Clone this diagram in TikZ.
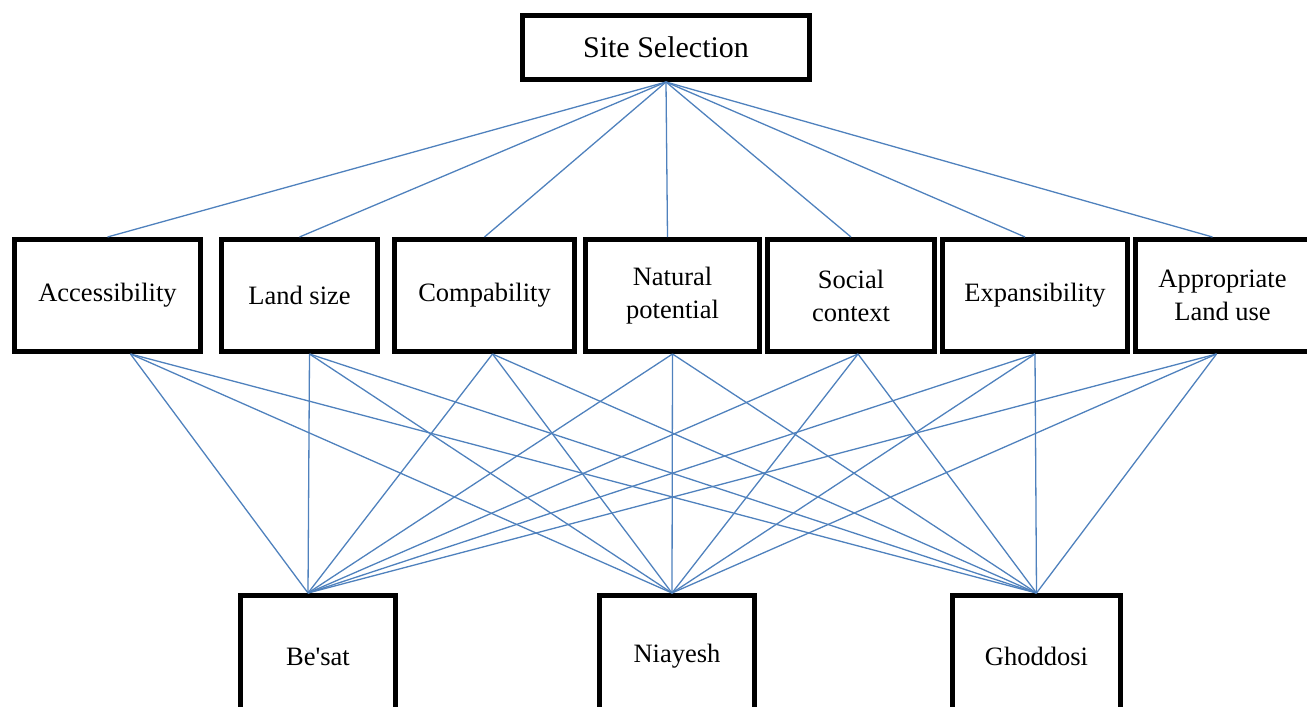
\documentclass[tikz,border=0pt]{standalone}
\usepackage{fontspec}
\setmainfont{Liberation Serif}
\usepackage{tikz}
\usetikzlibrary{positioning}

\definecolor{linkblue}{RGB}{79,129,189}

\tikzset{
  box/.style={draw, line width=5pt, inner sep=0pt, align=center,
    font=\fontsize{26.5}{33}\selectfont},
  crit/.style={box, minimum height=112pt},
  alt/.style={box, minimum height=122pt},
  link/.style={draw=linkblue, line width=1.3pt}
}

\begin{document}
\begin{tikzpicture}
\clip (0,0) rectangle (1307pt,-707pt);

\node (site) [box, minimum width=287pt, minimum height=64pt,
  font=\fontsize{30}{36}\selectfont] at (666pt,-47.5pt) {Site Selection};

\node (acc)  [crit, minimum width=186pt] at (107.5pt,-295.5pt) {Accessibility};
\node (land) [crit, minimum width=156pt, right=16pt of acc]  {Land size};
\node (comp) [crit, minimum width=180pt, right=12pt of land] {Compability};
\node (nat)  [crit, minimum width=174pt, right=6pt of comp]  {Natural\\potential};
\node (soc)  [crit, minimum width=167pt, right=3pt of nat]   {Social\\context};
\node (exp)  [crit, minimum width=185pt, right=3pt of soc]   {Expansibility};
\node (app)  [crit, minimum width=174pt, right=3pt of exp]   {Appropriate\\Land use};

\node (besat) [alt, minimum width=155pt] at (318pt,-656.5pt) {Be\textquotesingle sat};
\node (niay)  [alt, minimum width=155pt, right=199pt of besat] {Niayesh};
\node (ghod)  [alt, minimum width=168pt, right=193pt of niay]  {Ghoddosi};

% where the lines meet the boxes
\coordinate (acc-b)  at ([xshift=23pt]acc.south);
\coordinate (land-b) at ([xshift=10pt]land.south);
\coordinate (comp-b) at ([xshift=8pt]comp.south);
\coordinate (nat-b)  at (nat.south);
\coordinate (soc-b)  at ([xshift=7pt]soc.south);
\coordinate (exp-b)  at (exp.south);
\coordinate (app-b)  at ([xshift=-6pt]app.south);
\coordinate (besat-t) at ([xshift=-10pt]besat.north);
\coordinate (niay-t)  at ([xshift=-5pt]niay.north);
\coordinate (ghod-t)  at (ghod.north);

\draw[link] (site.south) -- (acc.north);
\draw[link] (site.south) -- (land.north);
\draw[link] (site.south) -- (comp.north);
\draw[link] (site.south) -- ([xshift=-5pt]nat.north);
\draw[link] (site.south) -- (soc.north);
\draw[link] (site.south) -- ([xshift=-10pt]exp.north);
\draw[link] (site.south) -- ([xshift=-10pt]app.north);

\draw[link] (acc-b) -- (besat-t);
\draw[link] (acc-b) -- (niay-t);
\draw[link] (acc-b) -- (ghod-t);
\draw[link] (land-b) -- (besat-t);
\draw[link] (land-b) -- (niay-t);
\draw[link] (land-b) -- (ghod-t);
\draw[link] (comp-b) -- (besat-t);
\draw[link] (comp-b) -- (niay-t);
\draw[link] (comp-b) -- (ghod-t);
\draw[link] (nat-b) -- (besat-t);
\draw[link] (nat-b) -- (niay-t);
\draw[link] (nat-b) -- (ghod-t);
\draw[link] (soc-b) -- (besat-t);
\draw[link] (soc-b) -- (niay-t);
\draw[link] (soc-b) -- (ghod-t);
\draw[link] (exp-b) -- (besat-t);
\draw[link] (exp-b) -- (niay-t);
\draw[link] (exp-b) -- (ghod-t);
\draw[link] (app-b) -- (besat-t);
\draw[link] (app-b) -- (niay-t);
\draw[link] (app-b) -- (ghod-t);
\end{tikzpicture}
\end{document}
